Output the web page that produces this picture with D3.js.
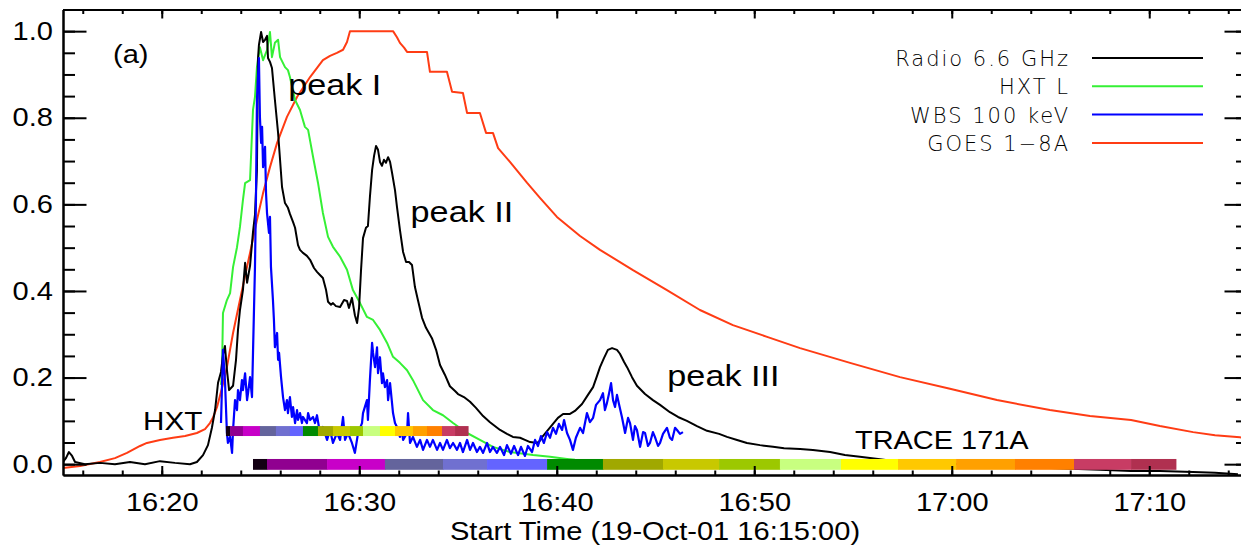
<!DOCTYPE html>
<html>
<head>
<meta charset="utf-8">
<script src="https://cdn.jsdelivr.net/npm/d3@7"></script>
<style>
  html, body { margin: 0; padding: 0; background: #fff; }
  svg { display: block; }
</style>
</head>
<body>
<svg id="chart" width="1241" height="548"></svg>
<script>
// Flare of 19 Oct 2001: normalised light curves, time in minutes after 16:15:00 UT

// Radio 6.6 GHz
const radioT = [0.00,0.15,0.30,0.46,0.61,1.11,1.87,2.63,3.39,4.15,4.91,5.67,6.43,6.78,7.09,7.34,7.54,7.70,7.85,8.00,8.10,8.20,8.30,8.41,8.61,8.76,8.86,8.96,9.11,9.22,9.32,9.47,9.62,9.72,9.82,9.87,9.92,10.03,10.13,10.23,10.33,10.38,10.48,10.58,10.73,10.89,10.99,11.09,11.24,11.39,11.49,11.65,11.75,11.90,12.00,12.15,12.35,12.51,12.71,12.86,13.01,13.16,13.32,13.42,13.57,13.67,13.82,14.03,14.23,14.38,14.48,14.63,14.78,14.89,14.99,15.09,15.19,15.34,15.44,15.54,15.65,15.75,15.85,15.95,16.05,16.15,16.25,16.35,16.46,16.56,16.66,16.81,16.91,17.06,17.22,17.37,17.52,17.67,17.82,17.97,18.18,18.38,18.68,18.89,19.09,19.34,19.59,19.85,20.00,20.30,20.61,20.91,21.27,21.62,22.13,22.48,22.78,23.14,23.39,23.65,24.00,24.15,24.30,24.56,24.81,25.06,25.32,25.52,25.67,25.92,26.28,26.58,26.84,27.04,27.19,27.39,27.59,27.80,28.05,28.20,28.41,28.56,28.81,29.06,29.47,29.87,30.23,30.73,31.14,31.59,32.10,32.61,33.22,33.62,34.13,34.63,35.29,35.95,36.51,37.32,37.97,38.84,39.59,40.35,41.27,42.13,42.94,44.41,45.82,47.44,49.97,52.51,54.08,55.54,57.22,58.33,59.49];
const radioV = [0.005,0.014,0.028,0.019,0.005,0.000,0.003,0.000,0.005,0.000,0.007,0.003,0.000,0.005,0.021,0.044,0.084,0.125,0.188,0.213,0.252,0.273,0.218,0.171,0.181,0.241,0.310,0.356,0.402,0.465,0.419,0.458,0.536,0.576,0.679,0.933,0.968,0.998,0.975,0.980,0.989,0.938,0.929,0.915,0.841,0.765,0.703,0.640,0.603,0.592,0.578,0.559,0.546,0.506,0.495,0.488,0.481,0.472,0.453,0.444,0.437,0.430,0.402,0.375,0.368,0.372,0.365,0.363,0.379,0.377,0.361,0.384,0.344,0.326,0.361,0.448,0.522,0.546,0.550,0.617,0.679,0.712,0.735,0.726,0.698,0.689,0.703,0.696,0.709,0.698,0.673,0.633,0.594,0.541,0.490,0.467,0.467,0.460,0.409,0.379,0.338,0.315,0.291,0.264,0.229,0.206,0.180,0.169,0.162,0.155,0.144,0.130,0.111,0.097,0.079,0.070,0.063,0.061,0.056,0.051,0.049,0.054,0.065,0.079,0.093,0.107,0.116,0.116,0.116,0.123,0.139,0.160,0.178,0.204,0.224,0.245,0.264,0.268,0.264,0.255,0.236,0.224,0.201,0.181,0.162,0.148,0.137,0.120,0.109,0.100,0.088,0.077,0.070,0.063,0.056,0.049,0.044,0.040,0.037,0.035,0.033,0.028,0.021,0.017,0.012,0.007,0.005,0.003,-0.002,-0.004,-0.009,-0.013,-0.016,-0.016,-0.018,-0.020,-0.023];

// Yohkoh HXT L band
const hxtT = [8.00,8.05,8.10,8.30,8.46,8.61,8.81,8.96,9.11,9.22,9.47,9.62,9.72,9.82,9.97,10.13,10.33,10.48,10.58,10.73,10.89,10.99,11.24,11.39,11.49,11.75,12.00,12.25,12.41,12.66,12.91,13.16,13.42,13.67,14.03,14.38,14.68,15.04,15.39,15.70,16.05,16.41,16.71,17.06,17.42,17.72,18.23,18.73,19.24,19.75,20.46,21.11,21.77,22.63,23.80,24.66,25.52,25.92];
const hxtV = [0.183,0.211,0.349,0.379,0.395,0.455,0.501,0.548,0.610,0.649,0.656,0.818,0.848,0.917,0.963,0.933,0.956,0.998,0.940,0.973,0.980,0.940,0.917,0.910,0.894,0.841,0.818,0.779,0.772,0.710,0.650,0.580,0.525,0.502,0.479,0.449,0.402,0.372,0.340,0.333,0.310,0.280,0.248,0.234,0.217,0.194,0.148,0.125,0.113,0.095,0.072,0.056,0.040,0.028,0.021,0.017,0.012,0.010];

// Yohkoh WBS 100 keV
const wbsT = [8.00,8.10,8.20,8.30,8.35,8.46,8.56,8.61,8.71,8.81,8.86,8.96,9.06,9.11,9.22,9.32,9.37,9.47,9.57,9.62,9.72,9.77,9.82,9.92,9.97,10.03,10.08,10.13,10.23,10.28,10.33,10.43,10.48,10.53,10.63,10.68,10.73,10.84,10.89,10.94,11.04,11.09,11.14,11.24,11.34,11.39,11.49,11.59,11.65,11.75,11.85,11.90,12.00,12.10,12.15,12.35,12.41,12.51,12.66,12.76,12.86,13.01,13.16,13.37,13.52,13.67,13.87,14.03,14.18,14.28,14.43,14.63,14.78,14.94,15.14,15.19,15.39,15.44,15.54,15.65,15.70,15.80,15.90,15.95,16.05,16.15,16.20,16.30,16.41,16.46,16.56,16.66,16.71,16.81,16.91,17.06,17.16,17.22,17.42,17.47,17.57,17.72,17.92,18.08,18.23,18.43,18.58,18.73,18.94,19.09,19.24,19.44,19.59,19.75,19.95,20.10,20.25,20.46,20.61,20.76,20.96,21.11,21.27,21.47,21.62,21.77,21.97,22.13,22.33,22.48,22.68,22.84,23.04,23.19,23.39,23.54,23.75,23.90,24.05,24.20,24.35,24.51,24.66,24.81,24.96,25.11,25.27,25.37,25.52,25.67,25.82,25.97,26.18,26.33,26.53,26.68,26.84,26.99,27.19,27.34,27.44,27.54,27.65,27.75,27.85,27.95,28.05,28.15,28.30,28.46,28.61,28.71,28.86,28.96,29.06,29.22,29.37,29.47,29.62,29.72,29.87,29.97,30.13,30.23,30.38,30.58,30.73,30.84,30.99,31.09,31.24,31.39];
const wbsV = [0.095,0.264,0.194,0.072,0.049,0.063,0.026,0.079,0.148,0.125,0.171,0.148,0.194,0.171,0.210,0.148,0.164,0.201,0.155,0.257,0.455,0.610,0.841,0.938,0.802,0.742,0.779,0.686,0.733,0.626,0.580,0.534,0.571,0.455,0.379,0.333,0.270,0.303,0.241,0.257,0.201,0.178,0.155,0.125,0.148,0.118,0.155,0.109,0.132,0.095,0.125,0.102,0.118,0.095,0.109,0.095,0.118,0.102,0.109,0.095,0.113,0.072,0.086,0.056,0.079,0.049,0.072,0.056,0.109,0.056,0.072,0.049,0.026,0.072,0.095,0.118,0.148,0.102,0.194,0.280,0.257,0.224,0.270,0.210,0.247,0.187,0.210,0.178,0.194,0.148,0.187,0.141,0.118,0.095,0.086,0.063,0.079,0.056,0.072,0.118,0.049,0.063,0.040,0.056,0.033,0.056,0.040,0.056,0.033,0.049,0.033,0.056,0.037,0.049,0.033,0.049,0.028,0.056,0.033,0.049,0.028,0.040,0.026,0.049,0.028,0.040,0.026,0.040,0.021,0.044,0.024,0.042,0.021,0.040,0.019,0.042,0.028,0.056,0.042,0.065,0.049,0.074,0.061,0.084,0.070,0.093,0.079,0.102,0.072,0.056,0.033,0.061,0.084,0.072,0.118,0.097,0.107,0.137,0.148,0.164,0.125,0.141,0.164,0.187,0.148,0.132,0.160,0.139,0.109,0.072,0.107,0.095,0.056,0.088,0.079,0.040,0.074,0.072,0.042,0.049,0.074,0.063,0.042,0.049,0.070,0.084,0.061,0.056,0.084,0.079,0.070,0.074];

// GOES 1-8 A soft X-ray flux
const goesT = [0.00,0.86,1.87,2.63,3.24,3.90,4.25,4.91,5.57,6.18,6.78,7.19,7.44,7.59,7.80,8.05,8.30,8.61,8.96,9.22,9.47,9.82,10.13,10.48,10.84,11.34,11.85,12.51,13.16,13.52,13.87,14.18,14.38,14.53,16.71,16.91,17.06,17.27,17.42,18.43,18.58,19.44,19.70,20.25,20.46,21.11,21.42,21.77,22.03,22.63,23.49,24.15,25.01,26.18,27.19,28.86,30.58,32.25,33.92,35.65,37.32,39.85,42.38,44.91,47.29,49.97,52.00,54.08,55.54,57.22,58.33,59.59,60.00];
const goesV = [-0.009,-0.004,0.005,0.014,0.026,0.042,0.049,0.056,0.061,0.065,0.072,0.081,0.095,0.107,0.132,0.176,0.224,0.303,0.379,0.435,0.488,0.564,0.626,0.686,0.742,0.802,0.848,0.894,0.933,0.943,0.950,0.957,0.975,1.000,1.000,0.986,0.973,0.962,0.952,0.952,0.906,0.906,0.860,0.857,0.811,0.811,0.765,0.765,0.730,0.698,0.650,0.615,0.571,0.527,0.495,0.448,0.402,0.356,0.321,0.294,0.268,0.234,0.201,0.174,0.148,0.125,0.111,0.102,0.088,0.074,0.067,0.062,0.060];

// Image time slots (boundaries, minutes) for the HXT and TRACE 171A sequences
const hxtImgT   = [8.25,8.46,9.11,9.97,10.78,11.49,12.15,12.91,13.67,14.53,15.19,16.05,16.81,17.72,18.43,19.19,19.85,20.51];
const traceImgT = [9.62,10.33,13.37,16.30,19.24,21.47,24.51,27.34,30.38,33.22,36.30,39.39,42.28,45.22,48.20,51.19,54.08,56.35];
const slotColors = ['#140014','#900090','#c800c8','#64649c','#7070d0','#6464ff','#008a00','#a0a800','#c8c800','#9cc800','#c8ff80','#ffff00','#ffc800','#ffa000','#ff8000','#c83c64','#b03050'];

const legendNames  = ['Radio 6.6 GHz', 'HXT L', 'WBS 100 keV', 'GOES 1\u22128A'];
const legendColors = ['#000000', '#35f035', '#0000ff', '#ff3c14'];

const yTickValues = [0, 0.2, 0.4, 0.6, 0.8, 1.0];

// ---------------------------------------------------------------------------
const start = new Date(2001, 9, 19, 16, 15, 0);
const at = m => new Date(+start + m * 60000);

const svg = d3.select('#chart');
const L = 63, R = 1248, T = 9.5, B = 475;
const FONT = '"Liberation Sans", Arial, Helvetica, sans-serif';
const SX = 1.14;   // horizontal stretch of the lettering

const x = d3.scaleTime().domain([start, at(60)]).range([L, R]);
const y = d3.scaleLinear().domain([-0.025, 1.05]).range([B, T]);

svg.append('defs').append('clipPath').attr('id', 'plotclip')
  .append('rect').attr('x', L).attr('y', T).attr('width', R - L).attr('height', B - T);

// colour strips showing image cadence
function strip(bounds, v0, v1) {
  const g = svg.append('g');
  d3.range(bounds.length - 1).forEach(i => {
    g.append('rect')
      .attr('x', x(at(bounds[i])))
      .attr('width', x(at(bounds[i + 1])) - x(at(bounds[i])) + 0.5)
      .attr('y', y(v0))
      .attr('height', y(v1) - y(v0))
      .attr('fill', slotColors[i]);
  });
}

// curves
const line = d3.line().x(d => x(at(d[0]))).y(d => y(d[1]));
const curves = svg.append('g').attr('clip-path', 'url(#plotclip)')
  .attr('fill', 'none').attr('stroke-linejoin', 'round').attr('stroke-width', 2);

function drawSeries(T_, V_, color, w) {
  curves.append('path')
    .datum(T_.map((t, i) => [t, V_[i]]))
    .attr('d', line).attr('stroke', color).attr('stroke-width', w);
}
drawSeries(goesT, goesV, legendColors[3], 2);
drawSeries(hxtT, hxtV, legendColors[1], 2);
drawSeries(radioT, radioV, legendColors[0], 2);
drawSeries(wbsT, wbsV, legendColors[2], 2.2);

strip(hxtImgT, 0.088, 0.065);
strip(traceImgT, 0.012, -0.013);

// axes
function styleAxis(g) {
  g.selectAll('path,line').attr('stroke', '#000').attr('stroke-width', 2);
  g.selectAll('text').attr('font-family', FONT).attr('fill', '#000');
}
const majorX = d3.timeMinute.every(10).range(start, at(60.01)).filter(d => +d > +start);
const minorX = d3.timeMinute.every(2).range(start, at(60.01));
const minorY = d3.range(0, 1.0501, 0.05);

svg.append('g').attr('transform', `translate(0,${B})`)
  .call(d3.axisBottom(x).tickValues(minorX).tickSize(-4.5).tickSizeOuter(0).tickFormat(''))
  .call(styleAxis);
const xAxis = svg.append('g').attr('transform', `translate(0,${B})`)
  .call(d3.axisBottom(x).tickValues(majorX).tickSize(-9).tickSizeOuter(0)
        .tickPadding(18).tickFormat(d3.timeFormat('%H:%M')))
  .call(styleAxis);
xAxis.selectAll('text').attr('font-size', 25.5).attr('transform', `scale(${SX},1)`);

svg.append('g').attr('transform', `translate(0,${T})`)
  .call(d3.axisTop(x).tickValues(minorX).tickSize(-4.5).tickSizeOuter(0).tickFormat(''))
  .call(styleAxis);
svg.append('g').attr('transform', `translate(0,${T})`)
  .call(d3.axisTop(x).tickValues(majorX).tickSize(-9).tickSizeOuter(0).tickFormat(''))
  .call(styleAxis);

svg.append('g').attr('transform', `translate(${L},0)`)
  .call(d3.axisLeft(y).tickValues(minorY).tickSize(-12).tickSizeOuter(0).tickFormat(''))
  .call(styleAxis);
const yAxis = svg.append('g').attr('transform', `translate(${L},0)`)
  .call(d3.axisLeft(y).tickValues(yTickValues).tickSize(-23.5).tickSizeOuter(0)
        .tickPadding(10).tickFormat(d3.format('.1f')))
  .call(styleAxis);
yAxis.selectAll('text').attr('font-size', 25.5)
  .attr('x', -10 / SX).attr('transform', `scale(${SX},1)`);

svg.append('g').attr('transform', `translate(${R},0)`)
  .call(d3.axisRight(y).tickValues(minorY).tickSize(-12).tickSizeOuter(0).tickFormat(''))
  .call(styleAxis);
svg.append('g').attr('transform', `translate(${R},0)`)
  .call(d3.axisRight(y).tickValues(yTickValues).tickSize(-23.5).tickSizeOuter(0).tickFormat(''))
  .call(styleAxis);

// annotations
function label(px, py, text, size, anchor) {
  svg.append('text')
    .attr('transform', `translate(${px},${py}) scale(${SX},1)`)
    .attr('font-family', FONT).attr('font-size', size)
    .attr('text-anchor', anchor || 'start').attr('fill', '#000')
    .text(text);
}
label(655, 540, 'Start Time (19-Oct-01 16:15:00)', 25.5, 'middle');
label(113, 63, '(a)', 25.5);
label(x(at(11.4)), 95, 'peak I', 30);
label(x(at(17.6)), 222, 'peak II', 30);
label(x(at(30.6)), 386, 'peak III', 30);
label(x(at(4.05)), 430, 'HXT', 26);
label(x(at(40.1)), 449, 'TRACE 171A', 25.4);

// legend
const lg = svg.append('g');
legendNames.forEach((name, i) => {
  const ly = 58 + i * 28.3;
  lg.append('text')
    .attr('x', 1070).attr('y', ly + 8)
    .attr('text-anchor', 'end')
    .attr('font-family', '"DejaVu Sans", sans-serif')
    .attr('font-weight', 200)
    .attr('font-size', 21)
    .attr('letter-spacing', 2)
    .attr('fill', '#000')
    .text(name);
  lg.append('line')
    .attr('x1', 1092).attr('x2', 1203).attr('y1', ly).attr('y2', ly)
    .attr('stroke', legendColors[i]).attr('stroke-width', 2);
});
</script>
</body>
</html>
